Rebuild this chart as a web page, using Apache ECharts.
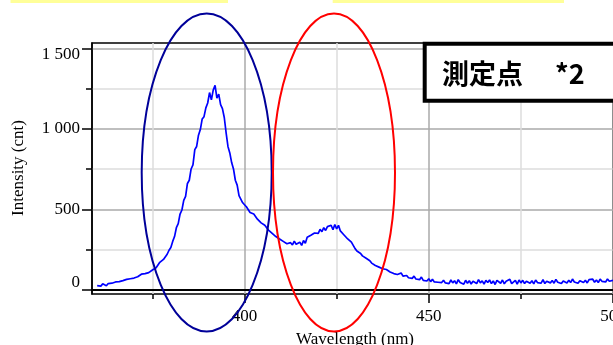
<!DOCTYPE html>
<html><head><meta charset="utf-8">
<script src="https://cdn.jsdelivr.net/npm/echarts@6/dist/echarts.min.js"></script>
<style>html,body{margin:0;padding:0;background:#fff;overflow:hidden}#c{width:613px;height:345px}</style>
</head><body><div id="c"></div>
<script>
// ---- data ----
const WAVELENGTH_START = 360;   // nm, first sample
const WAVELENGTH_STEP = 0.5;    // nm between samples
const intensity = [
  25, 34, 22, 36, 28, 24, 38, 28, 40, 32,
  48, 36, 50, 42, 56, 46, 64, 52, 68, 56,
  72, 66, 80, 74, 96, 84, 100, 96, 106, 102,
  122, 128, 136, 148, 170, 158, 188, 192, 220, 245,
  262, 300, 330, 385, 410, 470, 495, 555, 580, 660,
  680, 750, 775, 870, 890, 960, 995, 1060, 1075, 1130,
  1160, 1225, 1180, 1240, 1270, 1190, 1215, 1150, 1125, 1070,
  975, 890, 850, 790, 750, 680, 650, 585, 575, 540,
  550, 515, 505, 480, 478, 470, 460, 438, 445, 415,
  405, 400, 395, 370, 370, 350, 350, 330, 335, 315,
  318, 300, 305, 285, 290, 292, 278, 302, 282, 272,
  295, 275, 305, 288, 325, 318, 338, 342, 352, 362,
  350, 375, 360, 385, 368, 392, 380, 400, 372, 405,
  378, 400, 365, 355, 340, 335, 315, 310, 295, 275,
  255, 240, 230, 225, 210, 200, 195, 185, 180, 165,
  160, 150, 145, 140, 135, 130, 120, 125, 115, 110,
  115, 100, 112, 94, 100, 104, 84, 96, 88, 74,
  86, 70, 84, 66, 76, 62, 78, 58, 70, 54,
  68, 50, 64, 48, 60, 46, 58, 44, 58, 42,
  52, 38, 60, 42, 55, 36, 62, 45, 50, 34,
  58, 40, 56, 35, 52, 60, 38, 62, 42, 55,
  34, 58, 44, 60, 38, 54, 32, 58, 46, 40,
  60, 36, 52, 42, 64, 38, 50, 58, 35, 60,
  42, 58, 38, 52, 62, 40, 55, 36, 60, 44,
  56, 40, 62, 38, 52, 60, 42, 57, 40, 64,
  46, 58, 38, 54, 62, 42, 58, 44, 66, 48,
  60, 40, 56, 64, 44, 58, 42, 62, 50, 65,
  46, 60, 44, 66, 52, 62, 48, 66, 52, 63,
  58
];
const yTickValues = [0, 500, 1000, 1500];
const xMajorTicks = [400, 450, 500];
const xMinorTicks = [375, 425, 475];
const xTitle = 'Wavelength (nm)';
const yTitle = 'Intensity (cnt)';
const boxLabel = ['測定点', '*2'];

// ---- chart ----
const SERIF = 'Liberation Serif';
const chart = echarts.init(document.getElementById('c'), null, {renderer: 'canvas'});
const seriesData = intensity.map((v, i) => [WAVELENGTH_START + i * WAVELENGTH_STEP, v]);

function fmtY(v) {
  let s = v >= 1000 ? Math.floor(v / 1000) + ' ' + String(v % 1000).padStart(3, '0') : String(v);
  if (v === yTickValues[yTickValues.length - 1]) return '{t|' + s + '}';
  if (v === yTickValues[0]) return '{b|' + s + '}';
  return s;
}

const option = {
  animation: false,
  backgroundColor: '#fff',
  grid: [
    {left: 92, top: 43, width: 521, height: 251, show: true, borderColor: '#000', borderWidth: 1.5, backgroundColor: 'transparent', outerBoundsMode: 'none', containLabel: false},
    {left: 92, top: 48.3, width: 521, height: 241.7, outerBoundsMode: 'none', containLabel: false},
    {left: 244.5, top: 43, width: 368.4, height: 251, outerBoundsMode: 'none', containLabel: false},
    {left: 152.4, top: 43, width: 368.4, height: 251, outerBoundsMode: 'none', containLabel: false}
  ],
  xAxis: [
    {gridIndex: 0, type: 'value', min: 358.6, max: 500,
     axisLine: {show: true, lineStyle: {color: '#000', width: 2}},
     axisTick: {show: false}, axisLabel: {show: false}, splitLine: {show: false}},
    {gridIndex: 1, type: 'value', show: false, min: 0, max: 1},
    {gridIndex: 2, type: 'value', min: xMajorTicks[0], max: xMajorTicks[xMajorTicks.length - 1], interval: xMajorTicks[1] - xMajorTicks[0],
     axisLine: {show: false},
     axisTick: {show: true, length: 9, lineStyle: {color: '#000', width: 1.5}},
     axisLabel: {show: true, margin: 14, fontSize: 17, fontFamily: SERIF, color: '#000', hideOverlap: false},
     splitLine: {show: true, lineStyle: {color: '#aaa', width: 1.5}}},
    {gridIndex: 3, type: 'value', min: xMinorTicks[0], max: xMinorTicks[xMinorTicks.length - 1], interval: xMinorTicks[1] - xMinorTicks[0],
     axisLine: {show: false},
     axisTick: {show: true, length: 5, lineStyle: {color: '#000', width: 1.5}},
     axisLabel: {show: false},
     splitLine: {show: true, lineStyle: {color: '#ddd', width: 1.5}}}
  ],
  yAxis: [
    {gridIndex: 0, type: 'value', min: -27, max: 1533,
     axisLine: {show: true, lineStyle: {color: '#000', width: 1.5}},
     axisTick: {show: false}, axisLabel: {show: false}, splitLine: {show: false}},
    {gridIndex: 1, type: 'value', min: yTickValues[0], max: yTickValues[yTickValues.length - 1], interval: yTickValues[1] - yTickValues[0],
     axisLine: {show: false},
     axisTick: {show: true, length: 10, lineStyle: {color: '#000', width: 1.5}},
     minorTick: {show: true, splitNumber: 2, length: 6, lineStyle: {color: '#000', width: 1.5}},
     splitLine: {show: true, lineStyle: {color: '#aaa', width: 1.5}},
     minorSplitLine: {show: true, lineStyle: {color: '#ddd', width: 1.5}},
     axisLabel: {show: true, margin: 12, fontSize: 17, fontFamily: SERIF, color: '#000', formatter: fmtY,
       rich: {
         t: {fontSize: 17, fontFamily: SERIF, color: '#000', padding: [12, 0, 0, 0]},
         b: {fontSize: 17, fontFamily: SERIF, color: '#000', padding: [0, 0, 14, 0]}
       }}},
    {gridIndex: 2, type: 'value', show: false, min: 0, max: 1},
    {gridIndex: 3, type: 'value', show: false, min: 0, max: 1}
  ],
  series: [{
    type: 'line', xAxisIndex: 0, yAxisIndex: 0, data: seriesData,
    showSymbol: false, symbol: 'none', z: 5,
    lineStyle: {color: '#0000ff', width: 1.7}
  }],
  graphic: [
    {type: 'rect', shape: {x: 10.5, y: 0, width: 217.5, height: 3}, style: {fill: '#ffff99'}, z: 50},
    {type: 'rect', shape: {x: 332.7, y: 0, width: 231.3, height: 3}, style: {fill: '#ffff99'}, z: 50},
    {type: 'text', x: 19, y: 168, rotation: Math.PI / 2,
     style: {text: yTitle, font: '17px "Liberation Serif"', fill: '#000', align: 'center', verticalAlign: 'middle'}, z: 50},
    {type: 'text', x: 355, y: 331,
     style: {text: xTitle, font: '17px "Liberation Serif"', fill: '#000', align: 'center', verticalAlign: 'top'}, z: 50},
    {type: 'ellipse', shape: {cx: 206.7, cy: 172.5, rx: 65, ry: 159},
     style: {fill: 'none', stroke: '#000099', lineWidth: 2}, z: 100},
    {type: 'ellipse', shape: {cx: 334, cy: 172.5, rx: 61, ry: 159},
     style: {fill: 'none', stroke: '#ff0000', lineWidth: 2}, z: 100},
    {type: 'rect', shape: {x: 424.7, y: 43.7, width: 200, height: 57},
     style: {fill: '#fff', stroke: '#000', lineWidth: 4}, z: 110},
    {type: 'text', x: 442, y: 74, z: 111,
     style: {text: '{a|' + boxLabel[0] + '}{b|' + boxLabel[1] + '}', align: 'left', verticalAlign: 'middle',
       rich: {
         a: {fontSize: 27, fontWeight: 'bold', fontFamily: '"Noto Sans CJK JP"', fill: '#000'},
         b: {fontSize: 27, fontWeight: 'bold', fontFamily: '"Noto Sans CJK JP"', fill: '#000', padding: [0, 0, 0, 32]}
       }}}
  ]
};
chart.setOption(option);
</script>
</body></html>
